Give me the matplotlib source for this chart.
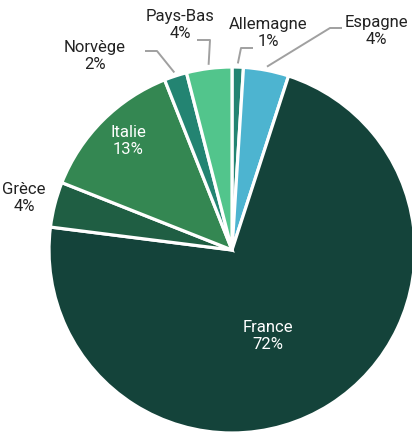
import numpy as np
import matplotlib.pyplot as plt

# données
pays = ['Allemagne', 'Espagne', 'France', 'Grèce', 'Italie', 'Norvège', 'Pays-Bas']
parts = [1, 4, 72, 4, 13, 2, 4]
couleurs = ['#238472', '#4db4d0', '#14433a', '#1f5e43', '#348752', '#238472', '#52c58c']

W, H = 412, 432
plt.rcParams['font.family'] = ['Roboto', 'DejaVu Sans']

fig = plt.figure(figsize=(W / 100, H / 100), dpi=100)
ax = fig.add_axes([0, 0, 1, 1])

# centre et rayon en pixels (y vers le haut)
cx, cy, r = 232, H - 250, 183
wedges, _ = ax.pie(parts, colors=couleurs, startangle=90, counterclock=False,
                   center=(cx, cy), radius=r, frame=True,
                   wedgeprops=dict(edgecolor='white', linewidth=2.3))
ax.set_xlim(0, W)
ax.set_ylim(0, H)
ax.set_aspect('equal')
ax.axis('off')


def point(w, frac):
    a = np.deg2rad((w.theta1 + w.theta2) / 2)
    return cx + frac * r * np.cos(a), cy + frac * r * np.sin(a)


# étiquettes intérieures (blanc)
inside = {'France': (268, 336), 'Italie': (128, 141)}
# étiquettes extérieures: position du texte, coude, fin de ligne
outside = {
    'Espagne': ((376, 31), (330, 28), (342, 28)),
    'Allemagne': ((268, 33), (241, 48), (253, 48)),
    'Pays-Bas': ((180, 25), (210, 40), (197, 40)),
    'Norvège': ((95, 56), (157, 51), (145, 51)),
    'Grèce': ((24, 198), None, None),
}

for w, nom, p in zip(wedges, pays, parts):
    txt = f'{nom}\n{p}%'
    if nom in inside:
        x, y = inside[nom]
        ax.text(x, H - y, txt, ha='center', va='center', color='white',
                fontsize=12, linespacing=1.1)
    else:
        (tx, ty), coude, fin = outside[nom]
        ax.text(tx, H - ty, txt, ha='center', va='center', color='#222222',
                fontsize=12, linespacing=1.1)
        if coude is not None:
            ax0, ay0 = point(w, 1.02)
            ax.plot([ax0, coude[0], fin[0]], [ay0, H - coude[1], H - fin[1]],
                    color='#a0a0a0', linewidth=1.4, solid_capstyle='butt')

fig.savefig('out.png', dpi=100)
